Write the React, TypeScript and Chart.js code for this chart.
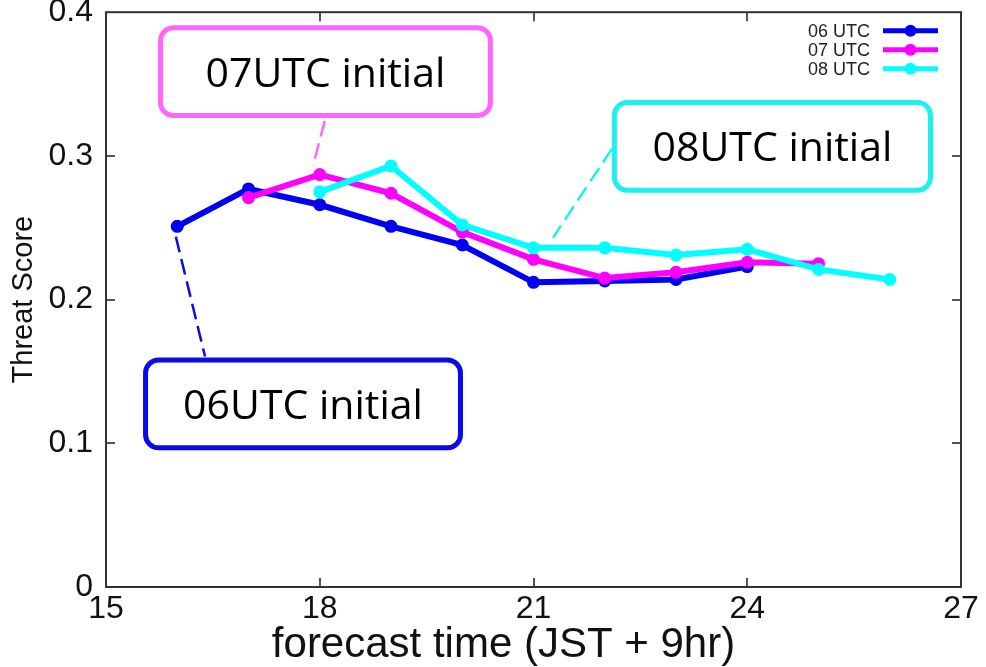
import React, { useEffect, useRef } from "react";
import { Chart, registerables } from "chart.js";

Chart.register(...registerables);

// ---- data ----
const hours06 = [16, 17, 18, 19, 20, 21, 22, 23, 24];
const score06 = [0.251, 0.277, 0.266, 0.251, 0.238, 0.212, 0.213, 0.214, 0.223];
const hours07 = [17, 18, 19, 20, 21, 22, 23, 24, 25];
const score07 = [0.271, 0.287, 0.274, 0.247, 0.228, 0.215, 0.219, 0.226, 0.225];
const hours08 = [18, 19, 20, 21, 22, 23, 24, 25, 26];
const score08 = [0.275, 0.293, 0.252, 0.236, 0.236, 0.231, 0.235, 0.221, 0.214];

const seriesNames = ["06 UTC", "07 UTC", "08 UTC"];
const xTicks = [15, 18, 21, 24, 27];
const yTicks = [0, 0.1, 0.2, 0.3, 0.4];
const xTitle = "forecast time (JST + 9hr)";
const yTitle = "Threat Score";
const calloutLabels = ["06UTC initial", "07UTC initial", "08UTC initial"];

// ---- styles / placement (data units) ----
const seriesColors = ["#0000f2", "#ff00ff", "#00ffff"];
const calloutColors = ["#0a0aeb", "#ff66ff", "#1cf0f0"];
const calloutBoxes = [
  [15.52, 0.1597, 20.01, 0.0951],
  [15.73, 0.391, 20.43, 0.3264],
  [22.1, 0.3389, 26.607, 0.2743],
];
const calloutLeaders = [
  [15.98, 0.2438, 16.39, 0.1604],
  [18.07, 0.3243, 17.905, 0.2931],
  [22.1, 0.3049, 21.274, 0.2431],
];

const SANS = "'Liberation Sans', Arial, Helvetica, sans-serif";

const toPts = (xs: number[], ys: number[]) => xs.map((x, i) => ({ x, y: ys[i] }));

function roundRect(ctx: CanvasRenderingContext2D, x: number, y: number, w: number, h: number, r: number) {
  ctx.beginPath();
  ctx.moveTo(x + r, y);
  ctx.lineTo(x + w - r, y);
  ctx.arcTo(x + w, y, x + w, y + r, r);
  ctx.lineTo(x + w, y + h - r);
  ctx.arcTo(x + w, y + h, x + w - r, y + h, r);
  ctx.lineTo(x + r, y + h);
  ctx.arcTo(x, y + h, x, y + h - r, r);
  ctx.lineTo(x, y + r);
  ctx.arcTo(x, y, x + r, y, r);
  ctx.closePath();
}

const decorPlugin = {
  id: "decor",
  beforeDatasetsDraw(chart: any) {
    const { ctx, chartArea: a, scales } = chart;
    const xs = scales.x;
    const ys = scales.y;
    ctx.save();
    ctx.strokeStyle = "#555";
    ctx.lineWidth = 2;
    const tl = 9;
    xTicks.slice(1, -1).forEach((v) => {
      const px = Math.round(xs.getPixelForValue(v));
      ctx.beginPath();
      ctx.moveTo(px, a.bottom);
      ctx.lineTo(px, a.bottom - tl);
      ctx.moveTo(px, a.top);
      ctx.lineTo(px, a.top + tl);
      ctx.stroke();
    });
    yTicks.slice(1, -1).forEach((v) => {
      const py = Math.round(ys.getPixelForValue(v));
      ctx.beginPath();
      ctx.moveTo(a.left, py);
      ctx.lineTo(a.left + tl, py);
      ctx.moveTo(a.right, py);
      ctx.lineTo(a.right - tl, py);
      ctx.stroke();
    });
    ctx.strokeStyle = "#333";
    ctx.lineWidth = 2;
    ctx.strokeRect(a.left, a.top, a.right - a.left, a.bottom - a.top);
    ctx.restore();
  },
  afterDatasetsDraw(chart: any) {
    const { ctx, chartArea: a, scales } = chart;
    const xs = scales.x;
    const ys = scales.y;
    ctx.save();
    // callouts
    calloutLabels.forEach((label, i) => {
      const [lx1, ly1, lx2, ly2] = calloutLeaders[i];
      ctx.strokeStyle = calloutColors[i];
      ctx.lineWidth = 2.5;
      ctx.setLineDash([16, 7]);
      ctx.beginPath();
      ctx.moveTo(xs.getPixelForValue(lx1), ys.getPixelForValue(ly1));
      ctx.lineTo(xs.getPixelForValue(lx2), ys.getPixelForValue(ly2));
      ctx.stroke();
      ctx.setLineDash([]);
      const [bx1, by1, bx2, by2] = calloutBoxes[i];
      const x1 = xs.getPixelForValue(bx1) + 2.5;
      const x2 = xs.getPixelForValue(bx2) - 2.5;
      const y1 = ys.getPixelForValue(by1) + 2.5;
      const y2 = ys.getPixelForValue(by2) - 2.5;
      roundRect(ctx, x1, y1, x2 - x1, y2 - y1, 13);
      ctx.fillStyle = "#fff";
      ctx.fill();
      ctx.lineWidth = 5;
      ctx.stroke();
      ctx.fillStyle = "#000";
      ctx.font = "41px 'Open Sans', 'Liberation Sans', sans-serif";
      ctx.textAlign = "center";
      ctx.textBaseline = "alphabetic";
      ctx.fillText(label, (x1 + x2) / 2, (y1 + y2) / 2 + 15);
    });
    // legend
    const lineEnd = a.right - 23;
    const lineStart = a.right - 78;
    const textRight = a.right - 91;
    seriesNames.forEach((name, i) => {
      const y = a.top + 18.5 + i * 19;
      ctx.fillStyle = "#222";
      ctx.font = "18px " + SANS;
      ctx.textAlign = "right";
      ctx.textBaseline = "middle";
      ctx.fillText(name, textRight, y + 1);
      ctx.strokeStyle = seriesColors[i];
      ctx.lineWidth = 5;
      ctx.beginPath();
      ctx.moveTo(lineStart, y);
      ctx.lineTo(lineEnd, y);
      ctx.stroke();
      ctx.fillStyle = seriesColors[i];
      ctx.beginPath();
      ctx.arc((lineStart + lineEnd) / 2, y, 6, 0, Math.PI * 2);
      ctx.fill();
    });
    // x title
    ctx.fillStyle = "#111";
    ctx.font = "42px " + SANS;
    ctx.textAlign = "center";
    ctx.textBaseline = "alphabetic";
    ctx.fillText(xTitle, (a.left + a.right) / 2 - 30, a.bottom + 70);
    ctx.restore();
  },
};

export default function App() {
  const ref = useRef<HTMLCanvasElement | null>(null);
  useEffect(() => {
    if (!ref.current) return;
    const datasets = [
      { label: seriesNames[0], data: toPts(hours06, score06), order: 3 },
      { label: seriesNames[1], data: toPts(hours07, score07), order: 2 },
      { label: seriesNames[2], data: toPts(hours08, score08), order: 1 },
    ].map((d, i) => ({
      ...d,
      borderColor: seriesColors[i],
      backgroundColor: seriesColors[i],
      pointBackgroundColor: seriesColors[i],
      pointBorderWidth: 0,
      pointRadius: 6.5,
      pointHoverRadius: 6.5,
      borderWidth: 6,
      tension: 0,
      fill: false,
    }));
    const chart = new Chart(ref.current, {
      type: "line",
      data: { datasets },
      options: {
        animation: false,
        responsive: false,
        maintainAspectRatio: false,
        layout: { padding: { left: 0, right: 25, top: 31, bottom: 0 } },
        plugins: { legend: { display: false }, tooltip: { enabled: false } },
        scales: {
          x: {
            type: "linear",
            min: 15,
            max: 27,
            afterBuildTicks: (s: any) => {
              s.ticks = xTicks.map((v) => ({ value: v }));
            },
            grid: { display: false, drawTicks: false },
            border: { display: false },
            ticks: {
              color: "#111",
              font: { family: SANS, size: 32 },
              padding: 3,
              maxRotation: 0,
              autoSkip: false,
            },
            afterFit: (s: any) => {
              s.height = 80;
            },
          },
          y: {
            type: "linear",
            min: 0,
            max: 0.4,
            afterBuildTicks: (s: any) => {
              s.ticks = yTicks.map((v) => ({ value: v }));
            },
            grid: { display: false, drawTicks: false },
            border: { display: false },
            ticks: {
              color: "#111",
              font: { family: SANS, size: 32 },
              padding: 13,
              callback: (v: any) => (Number(v) === 0 ? "0" : Number(v).toFixed(1)),
            },
            title: {
              display: true,
              text: yTitle,
              color: "#111",
              font: { family: SANS, size: 29 },
              padding: { top: 7, bottom: 0 },
            },
            afterFit: (s: any) => {
              s.width = 106;
            },
          },
        },
      },
      plugins: [decorPlugin],
    });
    return () => chart.destroy();
  }, []);
  return (
    <div
      style={{
        position: "fixed",
        left: 0,
        top: 0,
        width: 986,
        height: 667,
        overflow: "hidden",
        background: "#fff",
      }}
    >
      <canvas
        ref={ref}
        width={986}
        height={687}
        style={{ position: "absolute", left: 0, top: -20, width: 986, height: 687 }}
      />
    </div>
  );
}
